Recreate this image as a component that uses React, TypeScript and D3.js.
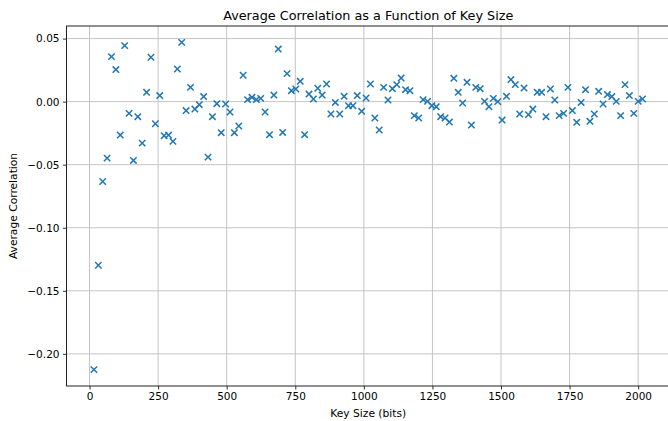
import React, { useEffect, useRef } from 'react'
import * as d3 from 'd3'

// key sizes in bits
const keySizes = [
  16, 32, 48, 64, 80, 96, 112, 128, 144, 160, 176, 192, 208, 224, 240, 256,
  272, 288, 304, 320, 336, 352, 368, 384, 400, 416, 432, 448, 464, 480, 496, 512,
  528, 544, 560, 576, 592, 608, 624, 640, 656, 672, 688, 704, 720, 736, 752, 768,
  784, 800, 816, 832, 848, 864, 880, 896, 912, 928, 944, 960, 976, 992, 1008, 1024,
  1040, 1056, 1072, 1088, 1104, 1120, 1136, 1152, 1168, 1184, 1200, 1216, 1232, 1248, 1264, 1280,
  1296, 1312, 1328, 1344, 1360, 1376, 1392, 1408, 1424, 1440, 1456, 1472, 1488, 1504, 1520, 1536,
  1552, 1568, 1584, 1600, 1616, 1632, 1648, 1664, 1680, 1696, 1712, 1728, 1744, 1760, 1776, 1792,
  1808, 1824, 1840, 1856, 1872, 1888, 1904, 1920, 1936, 1952, 1968, 1984, 2000, 2016,
]

const avgCorrelation = [
  -0.2125, -0.1297, -0.0633, -0.0448, 0.0357, 0.0254, -0.0265, 0.0444,
  -0.0093, -0.0466, -0.0119, -0.0329, 0.0074, 0.0352, -0.0175, 0.0048,
  -0.027, -0.0265, -0.0315, 0.0259, 0.047, -0.0071, 0.0113, -0.0059,
  -0.0024, 0.004, -0.044, -0.0119, -0.0016, -0.0246, -0.0019, -0.0082,
  -0.0246, -0.0193, 0.0209, 0.0016, 0.0034, 0.0016, 0.0026, -0.0082,
  -0.0262, 0.0052, 0.0417, -0.0244, 0.0222, 0.0087, 0.01, 0.0161,
  -0.0262, 0.006, 0.0021, 0.0106, 0.0052, 0.014, -0.0098, -0.0006,
  -0.0098, 0.0042, -0.0032, -0.0032, 0.0048, -0.0077, 0.0029, 0.014,
  -0.013, -0.0225, 0.0113, 0.0013, 0.0103, 0.0135, 0.0187, 0.0095,
  0.0087, -0.0111, -0.013, 0.0016, 0.0002, -0.0032, -0.004, -0.0119,
  -0.013, -0.0162, 0.0185, 0.0074, -0.0011, 0.0153, -0.0186, 0.0113,
  0.0103, 0.0002, -0.004, 0.0026, 0.0, -0.0146, 0.0042, 0.0175,
  0.0135, -0.0098, 0.0108, -0.0103, -0.0059, 0.0074, 0.0074, -0.0119,
  0.01, 0.0013, -0.0111, -0.0093, 0.0113, -0.0071, -0.0164, -0.0006,
  0.0095, -0.0156, -0.0098, 0.0082, -0.0019, 0.0056, 0.004, 0.0002,
  -0.0111, 0.0135, 0.0048, -0.0093, 0.0002, 0.0021,
]

const xTicks = [0, 250, 500, 750, 1000, 1250, 1500, 1750, 2000]
const yTicks = [0.05, 0.0, -0.05, -0.1, -0.15, -0.2]

const W = 668
const H = 421
const margin = { top: 26, right: -2, bottom: 35, left: 66.5 }
const font = 'DejaVu Sans, sans-serif'

const App = () => {
  const svgRef = useRef<SVGSVGElement>(null)

  useEffect(() => {
    const svg = d3.select(svgRef.current)
    svg.selectAll('*').remove()

    const data = keySizes.map((k, i) => ({ k, v: avgCorrelation[i] }))

    // matplotlib style 5% padding around the data
    const [x0, x1] = d3.extent(keySizes) as [number, number]
    const [y0, y1] = d3.extent(avgCorrelation) as [number, number]
    const px = (x1 - x0) * 0.05
    const py = (y1 - y0) * 0.05

    const x = d3.scaleLinear()
      .domain([x0 - px, x1 + px])
      .range([margin.left, W - margin.right])
    const y = d3.scaleLinear()
      .domain([y0 - py, y1 + py])
      .range([H - margin.bottom, margin.top])

    // grid
    svg.append('g')
      .selectAll('line')
      .data(xTicks)
      .join('line')
      .attr('x1', d => x(d)).attr('x2', d => x(d))
      .attr('y1', margin.top).attr('y2', H - margin.bottom)
      .attr('stroke', '#c4c4c4').attr('stroke-width', 1)
    svg.append('g')
      .selectAll('line')
      .data(yTicks)
      .join('line')
      .attr('x1', margin.left).attr('x2', W - margin.right)
      .attr('y1', d => y(d)).attr('y2', d => y(d))
      .attr('stroke', '#c4c4c4').attr('stroke-width', 1)

    // markers
    const s = 3.2
    const pts = svg.append('g')
      .selectAll('path')
      .data(data)
      .join('path')
      .attr('d', d => {
        const cx = x(d.k), cy = y(d.v)
        return `M${cx - s},${cy - s}L${cx + s},${cy + s}M${cx - s},${cy + s}L${cx + s},${cy - s}`
      })
      .attr('stroke', '#1f77b4')
      .attr('stroke-width', 1.5)
      .attr('fill', 'none')

    // axes
    const xAxis = svg.append('g')
      .attr('transform', `translate(0,${H - margin.bottom})`)
      .call(d3.axisBottom(x).tickValues(xTicks).tickSize(3.5).tickPadding(3.5).tickFormat(d3.format('d')))
    const yAxis = svg.append('g')
      .attr('transform', `translate(${margin.left},0)`)
      .call(d3.axisLeft(y).tickValues(yTicks).tickSize(3.5).tickPadding(3.5).tickFormat(d3.format('.2f')))

    ;[xAxis, yAxis].forEach(a => {
      a.select('.domain').remove()
      a.selectAll('text').attr('font-family', font).attr('font-size', 10.5).attr('fill', '#000')
      a.selectAll('line').attr('stroke', '#000').attr('stroke-width', 0.8)
    })
    yAxis.selectAll('text').text(d => {
      const v = d as number
      return (v < 0 ? '\u2212' : '') + Math.abs(v).toFixed(2)
    })

    // spines
    svg.append('rect')
      .attr('x', margin.left).attr('y', margin.top)
      .attr('width', W - margin.right - margin.left)
      .attr('height', H - margin.bottom - margin.top)
      .attr('fill', 'none').attr('stroke', '#222').attr('stroke-width', 1)

    svg.append('text')
      .attr('x', (margin.left + W - margin.right) / 2)
      .attr('y', 20)
      .attr('text-anchor', 'middle')
      .attr('font-family', font).attr('font-size', 12.8)
      .text('Average Correlation as a Function of Key Size')

    svg.append('text')
      .attr('x', (margin.left + W - margin.right) / 2)
      .attr('y', 417)
      .attr('text-anchor', 'middle')
      .attr('font-family', font).attr('font-size', 10.7)
      .text('Key Size (bits)')

    svg.append('text')
      .attr('transform', `translate(17,${(margin.top + H - margin.bottom) / 2}) rotate(-90)`)
      .attr('text-anchor', 'middle')
      .attr('font-family', font).attr('font-size', 10.7)
      .text('Average Correlation')

    pts.raise()
  }, [])

  return (
    <div style={{ position: 'absolute', left: 0, top: 0 }}>
      <svg ref={svgRef} width={W} height={H} style={{ display: 'block', background: '#fff' }}></svg>
    </div>
  )
}

export default App
